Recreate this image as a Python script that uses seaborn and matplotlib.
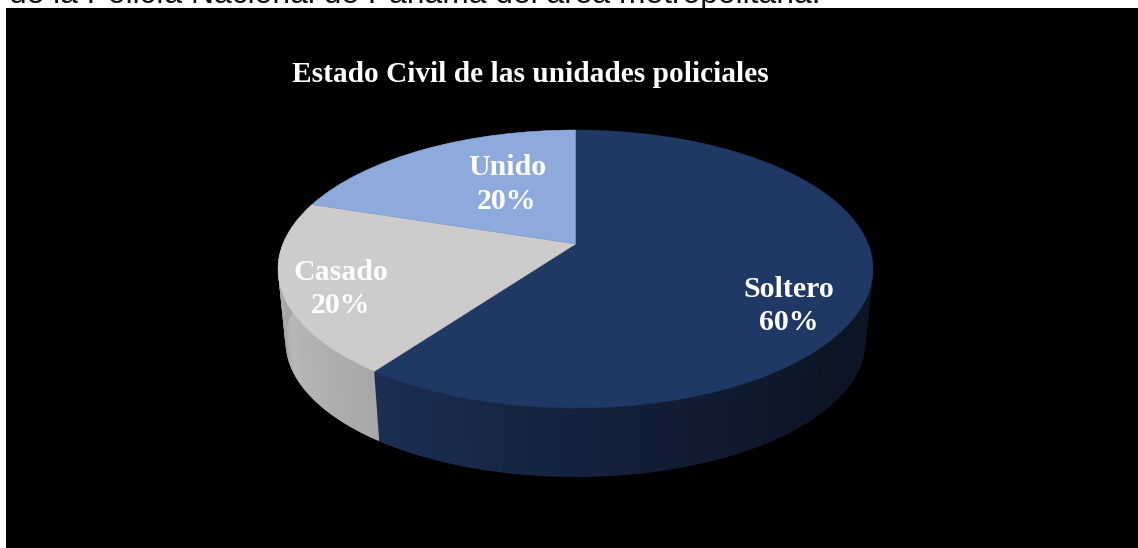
import numpy as np
import matplotlib
matplotlib.use("Agg")
import matplotlib.pyplot as plt
from matplotlib.collections import PolyCollection
from matplotlib.patches import Rectangle
from matplotlib.path import Path
from matplotlib.transforms import Transform
import seaborn as sns

# Marital status shares, clockwise from twelve o'clock
categories = ["Soltero", "Casado", "Unido"]
shares = [60, 20, 20]
title_text = "Estado Civil de las unidades policiales"
caption_text = "de la Policía Nacional de Panamá del área metropolitana."

top_colors = ["#1F3864", "#CDCBCB", "#8EA9DB"]
wall_blends = {
    "Soltero": ["#1B2F54", "#131F38", "#0C1524", "#0D1728"],
    "Casado": ["#A6A5A5", "#B8B6B6", "#A9A8A8"],
}
label_anchor = {"Soltero": (789, 306), "Casado": (341, 289), "Unido": (507, 184.5)}

W, H = 1138, 548
APEX_X, APEX_Y = 575.5, 244
BASE_Y, BASE_SCALE = 317, 0.975
TILT, SPAN_X, SPAN_Y = 0.18, 292.6, 134.5


def project(xy, apex_y=APEX_Y, scale=1.0):
    """Perspective view of the unit disc, in pixel coordinates."""
    xy = np.asarray(xy, dtype=float)
    d = 1 + TILT * xy[..., 1]
    return np.stack(
        [APEX_X + scale * SPAN_X * xy[..., 0] / d,
         apex_y - scale * SPAN_Y * xy[..., 1] / d], axis=-1)


class DiscPerspective(Transform):
    input_dims = output_dims = 2

    def transform_non_affine(self, values):
        return project(values)

    def transform_path_non_affine(self, path):
        return Path(project(path.vertices), path.codes)


sns.set_theme(style="white")
fig = plt.figure(figsize=(W / 100, H / 100), dpi=100, facecolor="white")
ax = fig.add_axes([0, 0, 1, 1])

wedges, _ = ax.pie(shares, colors=top_colors, startangle=90, counterclock=False,
                   wedgeprops={"linewidth": 0.4, "zorder": 3})
perspective = DiscPerspective() + ax.transData
for w, face in zip(wedges, top_colors):
    w.set_transform(perspective)
    w.set_edgecolor(face)

ax.set_aspect("auto")
ax.set_xlim(0, W)
ax.set_ylim(H, 0)
ax.axis("off")

# Black panel, with the line of running text cut off along its top edge
ax.text(9, 3, caption_text, family="Liberation Sans", fontsize=22.9, color="#111111",
        ha="left", va="baseline", zorder=0)
ax.add_patch(Rectangle((6, 8), W - 6, H - 8, facecolor="black", edgecolor="none", zorder=1))

# Side wall of the disc, built slice by slice along the front half of the rim
edges = np.concatenate([[0], np.cumsum(shares)]) / np.sum(shares) * 360
for cat, start, stop in zip(categories, edges[:-1], edges[1:]):
    if cat not in wall_blends:
        continue
    lo, hi = max(start, 88), min(stop, 272)
    n = 80
    ang = np.radians(np.linspace(lo, hi, n + 1))
    rim = np.stack([np.sin(ang), np.cos(ang)], axis=-1)
    upper = project(rim)
    lower = project(rim, BASE_Y, BASE_SCALE)
    # Blends are listed left to right on screen, the rim runs right to left
    shades = sns.blend_palette(wall_blends[cat], n)[::-1]
    # One polygon per shade, painted back to front so that neighbours overlap
    quads = [np.array([upper[i], upper[min(i + 2, n)], lower[min(i + 2, n)], lower[i]])
             for i in range(n)]
    ax.add_collection(PolyCollection(quads, facecolors=shades, edgecolors="none",
                                     antialiaseds=True, zorder=2))

ax.text(530, 74, title_text, family="Liberation Serif", weight="bold", fontsize=21.2,
        color="white", ha="center", va="center", zorder=4)
for cat, share in zip(categories, shares):
    x, y = label_anchor[cat]
    ax.text(x, y, f"{cat}\n{share}%", family="Liberation Serif", weight="bold", fontsize=21.5,
            color="white", ha="center", va="center", linespacing=1.33, zorder=4)

fig.savefig("out.png", dpi=100, facecolor="white")
